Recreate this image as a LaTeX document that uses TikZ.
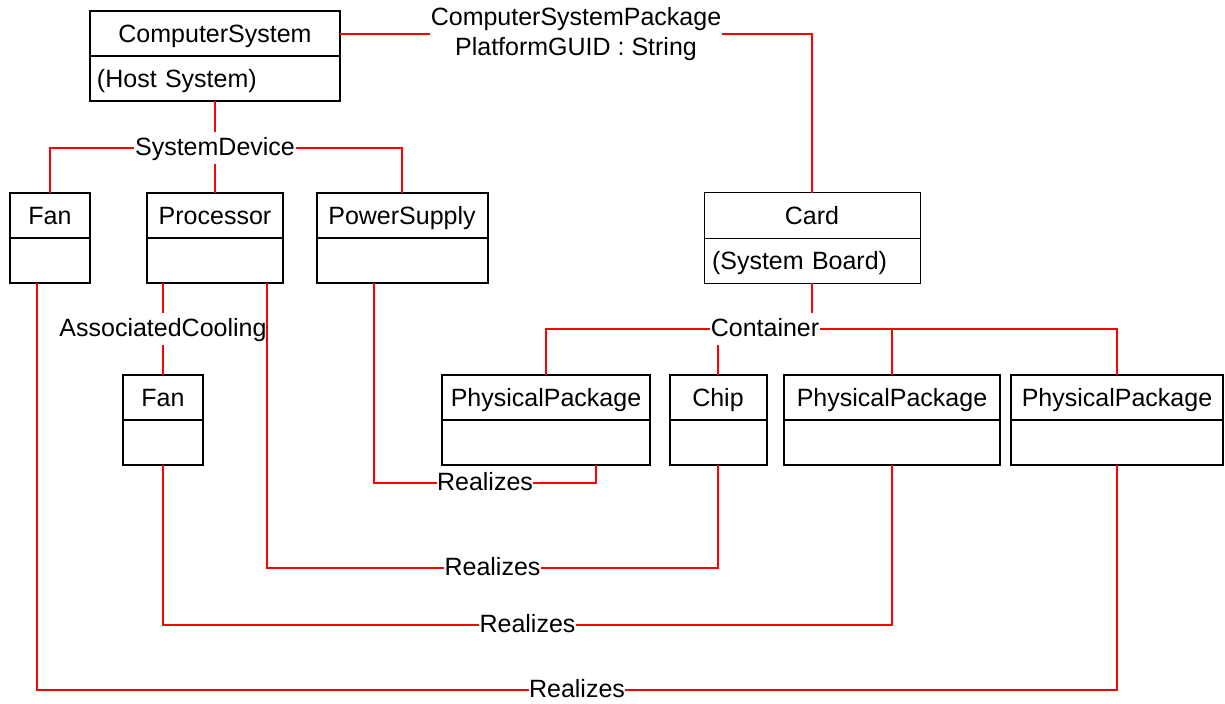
\documentclass[tikz,border=0pt]{standalone}
\usepackage{fontspec}
\setmainfont{Liberation Sans}
\usetikzlibrary{calc,positioning}

\begin{document}
\begin{tikzpicture}[
            x=1bp, y=-1bp,
            every node/.append style={font=\fontsize{25bp}{30bp}\selectfont},
            classtitle/.style={draw,line width=2bp,minimum width=#1,minimum height=45bp,
                inner sep=0pt,outer sep=0pt,text height=18bp,text depth=0pt},
            classbody/.style={classtitle=#1,anchor=north},
            lbl/.style={fill=white,inner xsep=0.5bp,inner ysep=0pt,minimum height=32bp,
                text height=18bp,text depth=3bp},
            lbltwo/.style={fill=white,inner sep=1bp,align=center},
            assoc/.style={draw=red,line width=1.4bp},
            aggr/.style={draw=red,line width=2.2bp}
        ]
            \useasboundingbox (0,0) rectangle (1225,704);

            % classes, top row
            \node[classtitle=250bp] (cs) at (215,34) {ComputerSystem};
            \node[classbody=250bp,text width=236bp,align=left] (csb) at (cs.south) {(Host System)};

            \node[classtitle=80bp] (fan1) at (50,215.5) {Fan};
            \node[classbody=80bp] (fan1b) at (fan1.south) {};
            \node[classtitle=136bp] (proc) at (215,215.5) {Processor};
            \node[classbody=136bp] (procb) at (proc.south) {};
            \node[classtitle=171bp] (psu) at (402,215.5) {PowerSupply};
            \node[classbody=171bp] (psub) at (psu.south) {};
            \node[classtitle=216bp,line width=1bp] (card) at (812,215.5) {Card};
            \node[classbody=216bp,line width=1bp,text width=200bp,align=left] (cardb) at (card.south) {(System Board)};

            % classes, lower row
            \node[classtitle=80bp] (fan2) at (163,397.5) {Fan};
            \node[classbody=80bp] (fan2b) at (fan2.south) {};
            \node[classtitle=208bp] (pp1) at (546,397.5) {PhysicalPackage};
            \node[classbody=208bp] (pp1b) at (pp1.south) {};
            \node[classtitle=97bp] (chip) at (718,397.5) {Chip};
            \node[classbody=97bp] (chipb) at (chip.south) {};
            \node[classtitle=216bp] (pp2) at (892,397.5) {PhysicalPackage};
            \node[classbody=216bp] (pp2b) at (pp2.south) {};
            \node[classtitle=212bp] (pp3) at (1117,397.5) {PhysicalPackage};
            \node[classbody=212bp] (pp3b) at (pp3.south) {};

            % association names
            \node[lbl] (sd) at (215,148) {SystemDevice};
            \node[lbl] (ac) at (163,329) {AssociatedCooling};
            \node[lbl] (ct) at (765,329) {Container};

            \draw[assoc] (cs.east) -| node[lbltwo,pos=0.25]{ComputerSystemPackage\\PlatformGUID : String} (card.north);

            \draw[aggr] (csb.south) -- (sd);
            \draw[assoc] (sd) -| (fan1.north);
            \draw[assoc] (sd) -- (proc.north);
            \draw[assoc] (sd) -| (psu.north);

            \draw[assoc] (procb.south -| ac) -- (ac);
            \draw[assoc] (ac) -- (fan2.north);

            \draw[aggr] (cardb.south) -- (cardb.south |- ct.north);
            \draw[assoc] (pp1.north) |- (ct) -| (pp3.north);
            \draw[assoc] (chip.north) -- (chip.north |- ct.south);
            \draw[assoc] (pp2.north) -- (pp2.north |- ct);

            % Realizes
            \coordinate (row1) at (0,483);
            \coordinate (row2) at (0,568);
            \coordinate (row3) at (0,625);
            \coordinate (row4) at (0,690);
            \coordinate (fan1out) at ([xshift=-13bp]fan1b.south);
            \coordinate (psuout) at ([xshift=-28bp]psub.south);
            \coordinate (procout) at ([xshift=52bp]procb.south);
            \coordinate (pp1out) at ([xshift=50bp]pp1b.south);

            \draw[assoc] (psuout) -- (psuout |- row1) -- node[lbl]{Realizes} (pp1out |- row1) -- (pp1out);
            \draw[assoc] (procout) -- (procout |- row2) -- node[lbl]{Realizes} (chipb.south |- row2) -- (chipb.south);
            \draw[assoc] (fan2b.south) -- (fan2b.south |- row3) -- node[lbl]{Realizes} (pp2b.south |- row3) -- (pp2b.south);
            \draw[assoc] (fan1out) -- (fan1out |- row4) -- node[lbl]{Realizes} (pp3b.south |- row4) -- (pp3b.south);
        \end{tikzpicture}
\end{document}
